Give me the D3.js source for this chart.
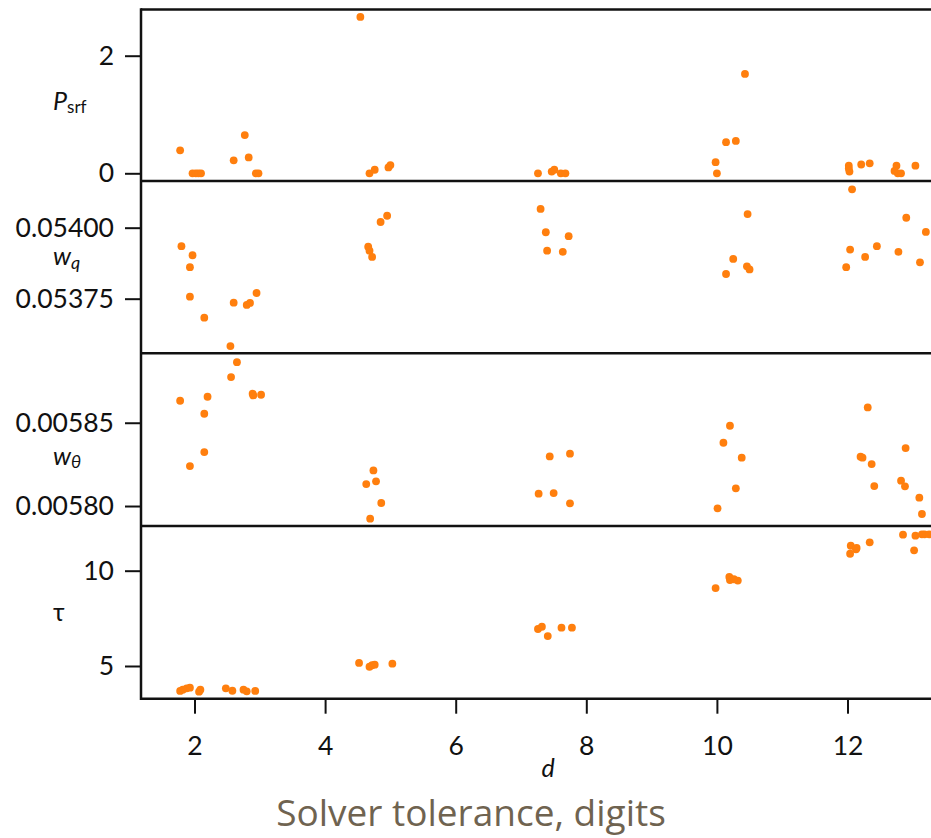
<!DOCTYPE html>
<html>
<head>
<meta charset="utf-8">
<script src="https://cdn.jsdelivr.net/npm/d3@7"></script>
<style>
  body { margin: 0; background: #fff; }
  svg { display: block; }
  .tick text { font-family: Lato, "Open Sans", sans-serif; font-size: 26.5px; fill: #111; }
  .tick line { stroke: #111; stroke-width: 2; }
  .frame { stroke: #111; stroke-width: 2.5; fill: none; }
  .vlabel { font-family: Lato, "Open Sans", sans-serif; font-size: 25px; fill: #111; }
</style>
</head>
<body>
<svg id="chart" width="931" height="838"></svg>
<script>
// surface pressure, [d, value]
const psrf = [
  [1.78, 0.39], [1.97, 0], [2.02, 0], [2.06, 0], [2.10, 0],
  [2.60, 0.22], [2.77, 0.65], [2.83, 0.27], [2.94, 0], [2.98, 0],
  [4.54, 2.66], [4.68, 0], [4.76, 0.06], [4.97, 0.10], [5.00, 0.14],
  [7.26, 0], [7.47, 0.03], [7.51, 0.06], [7.61, 0], [7.68, 0],
  [10.43, 1.69], [10.14, 0.53], [10.29, 0.55], [9.98, 0.19], [10.00, 0],
  [12.02, 0.13], [12.02, 0.08], [12.03, 0.03], [12.21, 0.15], [12.34, 0.17],
  [12.75, 0.13], [12.72, 0.04], [12.77, 0], [12.82, 0], [13.04, 0.13]
];

const wq = [
  [1.80, 0.053935], [1.97, 0.053903], [1.93, 0.053861], [1.93, 0.053757], [2.15, 0.053683],
  [2.60, 0.053736], [2.80, 0.053728], [2.85, 0.053735], [2.95, 0.053770], [2.55, 0.053583],
  [4.95, 0.054042], [4.85, 0.054020], [4.66, 0.053933], [4.68, 0.053919], [4.72, 0.053897],
  [7.30, 0.054066], [7.38, 0.053984], [7.73, 0.053970], [7.40, 0.053919], [7.64, 0.053915],
  [10.47, 0.054048], [10.25, 0.053890], [10.14, 0.053837], [10.46, 0.053864], [10.50, 0.053853],
  [12.07, 0.054135], [12.90, 0.054035], [13.20, 0.053985], [12.45, 0.053935], [12.04, 0.053923],
  [12.78, 0.053915], [12.27, 0.053897], [11.98, 0.053861], [13.11, 0.053878]
];

const wtheta = [
  [2.65, 0.0058864], [2.56, 0.0058774], [2.89, 0.0058674], [2.90, 0.0058664], [3.02, 0.0058668],
  [1.78, 0.0058632], [2.20, 0.0058656], [2.15, 0.0058554], [2.15, 0.0058324], [1.93, 0.0058240],
  [4.74, 0.0058214], [4.63, 0.0058132], [4.78, 0.0058148], [4.86, 0.0058018], [4.69, 0.0057924],
  [7.44, 0.0058298], [7.75, 0.0058314], [7.27, 0.0058074], [7.50, 0.0058078], [7.75, 0.0058016],
  [10.20, 0.0058482], [10.10, 0.0058380], [10.38, 0.0058290], [10.29, 0.0058106], [10.01, 0.0057986],
  [12.31, 0.0058592], [12.89, 0.0058348], [12.20, 0.0058296], [12.23, 0.0058290], [12.37, 0.0058252],
  [12.41, 0.0058120], [12.82, 0.0058152], [12.88, 0.0058118], [13.10, 0.0058050], [13.14, 0.0057952]
];

const tau = [
  [1.78, 3.69], [1.82, 3.76], [1.88, 3.83], [1.93, 3.86], [2.07, 3.65], [2.09, 3.76],
  [2.48, 3.83], [2.58, 3.70], [2.75, 3.76], [2.80, 3.67], [2.93, 3.69],
  [4.52, 5.16], [4.68, 4.96], [4.72, 5.04], [4.76, 5.07], [5.03, 5.12],
  [7.26, 6.94], [7.32, 7.06], [7.41, 6.57], [7.62, 7.01], [7.78, 7.01],
  [9.98, 9.09], [10.19, 9.67], [10.20, 9.51], [10.32, 9.48], [10.26, 9.55],
  [12.05, 11.31], [12.13, 11.12], [12.04, 10.89], [12.14, 11.19], [12.34, 11.49],
  [12.85, 11.89], [13.04, 11.84], [13.14, 11.91], [13.18, 11.91], [13.02, 11.07], [13.25, 11.91]
];

const xTicks = [2, 4, 6, 8, 10, 12];

const svg = d3.select("#chart");
const left = 141, right = 945;
const tops = [9.5, 181, 353.3, 526, 698.7];

let x = d3.scaleLinear().domain([1.1807, 2 + (right - 194.5) / 65.3]).range([left, right]);

// one entry per strip
const panels = [
  { data: psrf, dom: [-0.131, 2.786], ticks: [0, 2], fmt: d3.format("d") },
  { data: wq, dom: [0.0535577, 0.0541644], ticks: [0.05375, 0.054], fmt: d3.format(".5f") },
  { data: wtheta, dom: [0.005788, 0.0058917], ticks: [0.0058, 0.00585], fmt: d3.format(".5f") },
  { data: tau, dom: [3.284, 12.345], ticks: [5, 10], fmt: d3.format("d") }
];

panels.forEach((p, i) => {
    let y = d3.scaleLinear().domain(p.dom).range([tops[i + 1], tops[i]]);

    let ax = svg.append("g")
        .attr("transform", "translate(" + left + ",0)")
        .call(d3.axisLeft(y).tickValues(p.ticks).tickFormat(p.fmt).tickSize(16).tickPadding(11));
    ax.select(".domain").remove();

    svg.append("g").selectAll("circle")
        .data(p.data)
        .enter().append("circle")
        .attr("cx", d => x(d[0]))
        .attr("cy", d => y(d[1]))
        .attr("r", 3.9)
        .attr("fill", "#ff7f0e");
});

// frame: left edge plus strip separators
svg.append("line").attr("class", "frame")
    .attr("x1", left).attr("x2", left)
    .attr("y1", tops[0] - 1.2).attr("y2", tops[4] + 1.2);
tops.forEach(t => {
    svg.append("line").attr("class", "frame")
        .attr("x1", left).attr("x2", 940)
        .attr("y1", t).attr("y2", t);
});

let xa = svg.append("g")
    .attr("transform", "translate(0," + tops[4] + ")")
    .call(d3.axisBottom(x).tickValues(xTicks).tickSize(15).tickPadding(22));
xa.select(".domain").remove();

// strip labels
let lab = svg.append("text").attr("class", "vlabel").attr("x", 53).attr("y", 110);
lab.append("tspan").style("font-style", "italic").text("P");
lab.append("tspan").attr("font-size", 17).attr("dy", 3).text("srf");

lab = svg.append("text").attr("class", "vlabel").attr("x", 53).attr("y", 265);
lab.append("tspan").style("font-style", "italic").text("w");
lab.append("tspan").style("font-style", "italic").attr("font-size", 18).attr("dy", 4).text("q");

lab = svg.append("text").attr("class", "vlabel").attr("x", 53).attr("y", 465);
lab.append("tspan").style("font-style", "italic").text("w");
lab.append("tspan").style("font-style", "italic").attr("font-size", 18).attr("dy", 3).text("θ");

svg.append("text").attr("class", "vlabel").attr("x", 53).attr("y", 621).text("τ");

svg.append("text").attr("class", "vlabel")
    .attr("x", 548).attr("y", 777)
    .attr("text-anchor", "middle")
    .style("font-style", "italic")
    .text("d");

svg.append("text")
    .attr("x", 471).attr("y", 826)
    .attr("text-anchor", "middle")
    .style("font-family", "'Open Sans', sans-serif")
    .style("font-size", "37px")
    .style("fill", "#6f6350")
    .text("Solver tolerance, digits");
</script>
</body>
</html>
